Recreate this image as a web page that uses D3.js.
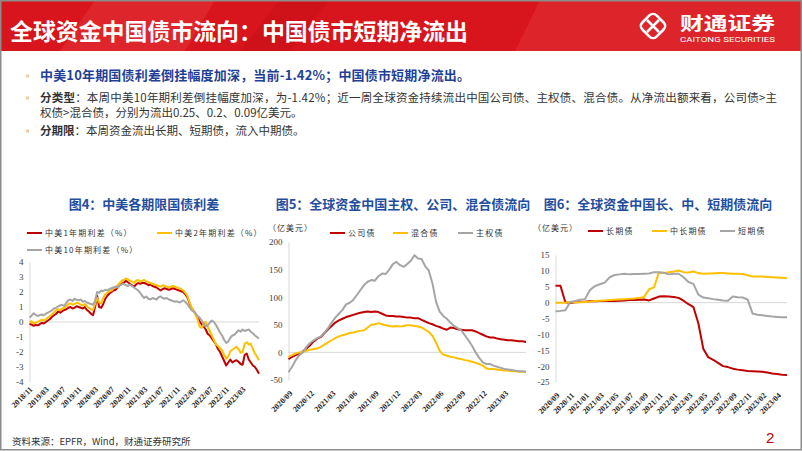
<!DOCTYPE html>
<html>
<head>
<meta charset="utf-8">
<script src="https://cdn.jsdelivr.net/npm/d3@7"></script>
<style>
  body { margin: 0; background: #fff; }
  svg { display: block; }
</style>
</head>
<body>
<svg id="slide" width="802" height="451"></svg>
<script>
// 图4: semi-monthly points from 2018/11 (%)
const spreadTicks = ["2018/11", "2019/03", "2019/07", "2019/11", "2020/03", "2020/07", "2020/11",
  "2021/03", "2021/07", "2021/11", "2022/03", "2022/07", "2022/11", "2023/03"];
const spread1y = [-0.12, -0.18, -0.25, -0.2, -0.22, -0.15, -0.05, -0.1, 0, 0.1, 0.2, 0.35, 0.45, 0.55,
  0.7, 0.62, 0.72, 0.8, 0.85, 0.95, 1, 0.9, 0.95, 1.05, 1, 0.95, 0.9, 1, 0.8, 0.7, 0.55, 0.45,
  1, 1.75, 1, 0.95, 1.2, 1.55, 1.75, 1.9, 2, 2.1, 2.15, 2.3, 2.45, 2.55, 2.6, 2.75, 2.65, 2.55,
  2.45, 2.35, 2.5, 2.6, 2.55, 2.6, 2.6, 2.55, 2.45, 2.5, 2.4, 2.35, 2.3, 2.2, 2.1, 2.2, 2.25, 2.2,
  2.15, 2.2, 2.25, 2.2, 2.15, 2.1, 2.05, 2, 1.85, 1.65, 1.3, 0.95, 0.75, 0.55, 0.3, 0.05, -0.15, -0.3,
  -0.5, -0.8, -0.9, -1.1, -1.3, -1.5, -1.8, -2, -2.3, -2.6, -2.9, -2.7, -2.5, -2.7, -2.6, -2.55,
  -2.65, -2.8, -2.85, -2.2, -2.1, -2.5, -2.7, -2.9, -3, -3.2, -3.45];
const spread2y = [-0.02, 0.05, -0.08, -0.05, 0.02, 0.08, 0.15, 0.1, 0.18, 0.3, 0.4, 0.52, 0.65, 0.78,
  0.85, 0.8, 0.9, 0.95, 1.05, 1.2, 1.25, 1.15, 1.2, 1.28, 1.25, 1.15, 1.1, 1.2, 1.05, 0.95, 0.85, 0.8,
  1.2, 1.6, 1.3, 1.25, 1.6, 1.85, 1.95, 2.05, 2.1, 2.25, 2.3, 2.45, 2.6, 2.75, 2.8, 2.9, 2.85, 2.75,
  2.7, 2.6, 2.75, 2.8, 2.7, 2.75, 2.8, 2.7, 2.65, 2.6, 2.55, 2.5, 2.45, 2.4, 2.35, 2.45, 2.4, 2.35,
  2.3, 2.35, 2.4, 2.35, 2.3, 2.25, 2.2, 2.1, 1.95, 1.75, 1.35, 1, 0.75, 0.5, 0.2, -0.3, -0.4, -0.15,
  0, -0.3, -0.6, -0.9, -1.2, -1.5, -1.6, -1.75, -1.9, -2.2, -2.45, -2.3, -1.95, -1.85, -1.75, -1.65,
  -1.8, -2.05, -2, -1.45, -1.35, -1.5, -1.45, -1.8, -2.1, -2.3, -2.55];
const spread10y = [0.3, 0.42, 0.58, 0.48, 0.4, 0.46, 0.5, 0.45, 0.55, 0.62, 0.7, 0.78, 0.9, 0.95,
  1.05, 1.1, 1.15, 1.05, 1.3, 1.45, 1.5, 1.4, 1.55, 1.48, 1.45, 1.5, 1.35, 1.4, 1.3, 1.25, 1.2, 1.15,
  1.4, 2, 1.95, 2.1, 2.05, 2.15, 2.1, 2.2, 2.25, 2.3, 2.35, 2.3, 2.45, 2.5, 2.55, 2.45, 2.4, 2.5,
  2.4, 2.3, 2.2, 2.1, 1.95, 1.75, 1.6, 1.7, 1.55, 1.5, 1.6, 1.55, 1.5, 1.65, 1.7, 1.6, 1.55, 1.6,
  1.5, 1.45, 1.4, 1.35, 1.38, 1.3, 1.35, 1.45, 1.35, 1.2, 1, 0.8, 0.7, 0.6, 0.4, 0.3, 0.1, -0.1,
  -0.3, -0.2, -0.05, 0.1, 0, -0.2, -0.45, -0.7, -0.9, -1.2, -1.4, -1.3, -1.05, -0.9, -0.85, -0.7,
  -0.55, -0.65, -0.5, -0.6, -0.55, -0.5, -0.65, -0.75, -0.9, -1, -1.1];

// 图5: semi-monthly points from 2020/09 (亿美元)
const flowTicks5 = ["2020/09", "2020/12", "2021/03", "2021/06", "2021/09", "2021/12", "2022/03",
  "2022/06", "2022/09", "2022/12", "2023/03"];
const corpBond = [-12, -8, -5, -2, 2, 7, 13, 20, 25, 28, 35, 42, 48, 54, 58, 61, 64, 66, 68, 70,
  72, 73, 74, 73, 74, 73, 70, 67, 66, 66, 65, 65, 64, 63, 63, 62, 62, 59, 56, 53, 51, 48, 46, 43, 41,
  45, 44, 42, 41, 40, 40, 40, 38, 35, 32, 29, 27, 27, 25, 24, 23, 22, 22, 21, 20, 20, 19];
const mixedBond = [-8, -5, -2, 0, 1, 3, 5, 6, 7, 10, 14, 18, 22, 26, 29, 31, 33, 35, 36, 38, 39, 40,
  45, 50, 51, 53, 51, 49, 48, 47, 48, 47, 48, 49, 49, 48, 47, 45, 41, 37, 30, 18, 3, -4, -6, -8, -9,
  -11, -12, -14, -15, -17, -19, -21, -24, -29, -30, -30, -31, -32, -33, -33, -34, -34, -35, -35, -36];
const sovBond = [-36, -26, -14, -5, 0, 10, 17, 22, 26, 29, 36, 44, 54, 63, 70, 77, 87, 90, 95, 104,
  113, 122, 128, 131, 130, 138, 143, 142, 150, 160, 164, 158, 155, 160, 166, 176, 170, 169, 156, 148,
  125, 92, 74, 66, 61, 54, 48, 44, 40, 31, 22, 12, 0, -10, -18, -21, -21, -24, -26, -28, -30, -31,
  -32, -33, -34, -34, -35];

// 图6: one point every 3 weeks from 2020/09 (亿美元)
const flowTicks6 = ["2020/09", "2020/11", "2021/01", "2021/03", "2021/05", "2021/07", "2021/09",
  "2021/11", "2022/01", "2022/03", "2022/05", "2022/07", "2022/09", "2022/11", "2023/02", "2023/04"];
const longBond = [5.3, 5.3, 0.1, -0.1, 0.1, 0.2, 0.3, 0.4, 0.4, 0.5, 0.5, 0.5, 0.5, 0.6, 0.7, 0.8,
  0.8, 0.9, 1, 0.7, 1.3, 1.9, 2, 1.9, 1.8, 1.5, 0.6, -0.5, -1.4, -6.5, -14.5, -17.2, -18, -19, -20,
  -20.3, -20.8, -21.1, -21.3, -21.5, -21.6, -21.7, -21.8, -22, -22.3, -22.5, -22.7, -22.8];
const midBond = [0, 0, 0, 0.1, 0.1, 0.1, 0.2, 0.3, 0.5, 0.6, 0.7, 0.8, 0.9, 1, 1.1, 1.2, 1.3, 1.5,
  1.8, 4.2, 4.8, 9.5, 9.3, 9.6, 9.8, 10.1, 9.6, 9.5, 9.8, 9.3, 9.1, 9.2, 9.2, 9.3, 9.3, 9.2, 9.1, 9.1,
  9, 8.6, 8.2, 8.2, 8.2, 8.1, 8, 7.9, 7.8, 7.7];
const shortBond = [-2.7, -2.6, -2.4, 0.2, 0.5, 0.9, 1.1, 4, 5.2, 5.8, 6.3, 8, 8.7, 8.9, 9.1, 8.9, 9,
  9, 9.1, 9.2, 9.6, 9.6, 9.4, 8.9, 9.1, 9.1, 8, 6.5, 5.9, 2.5, 1.6, 1.4, 1.1, 0.9, 0.7, 0.6, 1.9,
  1.7, 1.6, 1, -3.4, -3.8, -4, -4.2, -4.4, -4.5, -4.6, -4.6];

const RED = "#C00000";
const YELLOW = "#FFC000";
const GRAY = "#A5A5A5";
const CJK = "'Noto Sans CJK SC', 'Noto Sans', sans-serif";

const svg = d3.select("#slide");

/* header band */
const header = () => {
  svg.append("rect").attr("width", 802).attr("height", 51).attr("fill", "#d8141c");
  svg.append("polygon").attr("points", "95,0 215,0 185,51 60,51").attr("fill", "#e6393e").attr("opacity", 0.45);
  svg.append("polygon").attr("points", "280,0 330,0 290,51 240,51").attr("fill", "#b80f17").attr("opacity", 0.3);
  svg.append("polygon").attr("points", "540,0 802,0 802,51 515,51").attr("fill", "#e4383d").attr("opacity", 0.45);

  svg.append("text")
    .attr("x", 10).attr("y", 40)
    .attr("font-family", CJK).attr("font-weight", "bold").attr("font-size", 22.5)
    .attr("fill", "#fff")
    .attr("textLength", 458).attr("lengthAdjust", "spacingAndGlyphs")
    .text("全球资金中国债市流向：中国债市短期净流出");

  // logo
  const logo = svg.append("g").attr("fill", "none").attr("stroke", "#fff").attr("stroke-width", 2.6);
  logo.append("rect").attr("x", 643).attr("y", 16).attr("width", 20).attr("height", 20).attr("rx", 5)
    .attr("transform", "rotate(45 653 26)");
  logo.append("path").attr("d", "M647,20 L659,32 M659,20 L647,32");
  svg.append("text").attr("x", 680).attr("y", 30)
    .attr("font-family", CJK).attr("font-weight", "bold").attr("font-size", 18).attr("fill", "#fff")
    .attr("textLength", 95).attr("lengthAdjust", "spacingAndGlyphs").text("财通证券");
  svg.append("text").attr("x", 680).attr("y", 42)
    .attr("font-family", "Roboto, sans-serif").attr("font-size", 8).attr("fill", "#fff")
    .attr("textLength", 95).attr("lengthAdjust", "spacingAndGlyphs").text("CAITONG SECURITIES");
};

/* bullet text block */
const bullets = () => {
  [76, 98, 131].forEach(cy => {
    svg.append("rect").attr("x", 26).attr("y", cy - 1.5).attr("width", 3).attr("height", 3).attr("fill", "#f2c9a0");
  });
  svg.append("text").attr("x", 40).attr("y", 80)
    .attr("font-family", CJK).attr("font-weight", "bold").attr("font-size", 13).attr("fill", "#1f3f98")
    .attr("textLength", 430).attr("lengthAdjust", "spacing")
    .text("中美10年期国债利差倒挂幅度加深，当前-1.42%；中国债市短期净流出。");

  const body = (y, bold, rest, len) => {
    const t = svg.append("text").attr("x", 40).attr("y", y)
      .attr("font-family", CJK).attr("font-size", 11.5).attr("fill", "#333");
    if (len) t.attr("textLength", len).attr("lengthAdjust", "spacing");
    if (bold) t.append("tspan").attr("font-weight", "bold").text(bold);
    t.append("tspan").text(rest);
  };
  body(102, "分类型", "：本周中美10年期利差倒挂幅度加深，为-1.42%；近一周全球资金持续流出中国公司债、主权债、混合债。从净流出额来看，公司债>主", 737);
  body(117, null, "权债>混合债，分别为流出0.25、0.2、0.09亿美元。");
  body(135, "分期限", "：本周资金流出长期、短期债，流入中期债。");
};

const chartTitle = (x, text) => {
  svg.append("text").attr("x", x).attr("y", 209).attr("text-anchor", "middle")
    .attr("font-family", CJK).attr("font-weight", "bold").attr("font-size", 13).attr("fill", "#1f4e9f")
    .text(text);
};

const legendItem = (x, y, color, label) => {
  svg.append("line").attr("x1", x).attr("x2", x + 15).attr("y1", y).attr("y2", y)
    .attr("stroke", color).attr("stroke-width", 2);
  svg.append("text").attr("x", x + 18).attr("y", y).attr("dy", "0.35em")
    .attr("font-family", CJK).attr("font-size", 8).attr("letter-spacing", 1.2).attr("fill", "#333")
    .text(label);
};

const unitLabel = (x, y) => {
  svg.append("text").attr("x", x).attr("y", y).attr("dy", "0.35em")
    .attr("font-family", CJK).attr("font-size", 8).attr("letter-spacing", 1).attr("fill", "#333")
    .text("（亿美元）");
};

const drawChart = cfg => {
  const g = svg.append("g");
  const n = cfg.series[0].values.length;
  const x = d3.scaleLinear().domain([0, n - 1]).range([cfg.left, cfg.right]);
  const y = d3.scaleLinear().domain(cfg.yDomain).range([cfg.bottom, cfg.top]);

  const yAxis = g.append("g")
    .attr("transform", `translate(${cfg.left},0)`)
    .call(d3.axisLeft(y).tickValues(cfg.yTicks).tickSize(0).tickPadding(6).tickFormat(d => String(d)));
  yAxis.select(".domain").attr("stroke", "#d9d9d9");
  yAxis.selectAll("text")
    .attr("font-family", "'Liberation Serif', serif").attr("font-size", 9).attr("fill", "#404040");

  g.append("line")
    .attr("x1", cfg.left).attr("x2", cfg.right)
    .attr("y1", y(0)).attr("y2", y(0))
    .attr("stroke", "#d9d9d9");

  const xAxis = g.append("g")
    .attr("transform", `translate(0,${cfg.bottom})`)
    .call(d3.axisBottom(x)
      .tickValues(cfg.ticks.map((d, i) => i * cfg.step))
      .tickFormat((d, i) => cfg.ticks[i])
      .tickSize(0));
  xAxis.select(".domain").remove();
  xAxis.selectAll("text")
    .attr("y", 0).attr("dy", "0.35em")
    .attr("transform", `translate(${cfg.lx},${cfg.ly}) rotate(-45)`)
    .style("text-anchor", "end")
    .attr("font-family", "'Liberation Serif', serif").attr("font-weight", "bold")
    .attr("font-size", 8).attr("fill", "#262626");

  const line = d3.line().x((d, i) => x(i)).y(d => y(d));
  cfg.series.forEach(s => {
    g.append("path").datum(s.values)
      .attr("d", line)
      .attr("fill", "none")
      .attr("stroke", s.color)
      .attr("stroke-width", 2)
      .attr("stroke-linejoin", "round");
  });
};

header();
bullets();

// 图4
chartTitle(144, "图4：中美各期限国债利差");
legendItem(27, 233, RED, "中美1年期利差（%）");
legendItem(157, 233, YELLOW, "中美2年期利差（%）");
legendItem(27, 250, GRAY, "中美10年期利差（%）");
drawChart({
  left: 29.5, right: 259, top: 262, bottom: 382,
  yDomain: [-4, 4], yTicks: d3.range(-4, 5, 1),
  ticks: spreadTicks, step: 8, lx: 1, ly: 6,
  series: [
    { values: spread1y, color: RED },
    { values: spread2y, color: YELLOW },
    { values: spread10y, color: GRAY }
  ]
});

// 图5
chartTitle(403, "图5：全球资金中国主权、公司、混合债流向");
unitLabel(268, 228);
legendItem(330, 233, RED, "公司债");
legendItem(393, 233, YELLOW, "混合债");
legendItem(458, 233, GRAY, "主权债");
drawChart({
  left: 288.5, right: 526, top: 242, bottom: 380,
  yDomain: [-50, 200], yTicks: d3.range(-50, 201, 50),
  ticks: flowTicks5, step: 6, lx: 2, ly: 12,
  series: [
    { values: corpBond, color: RED },
    { values: mixedBond, color: YELLOW },
    { values: sovBond, color: GRAY }
  ]
});

// 图6
chartTitle(658, "图6：全球资金中国长、中、短期债流向");
unitLabel(533, 228);
legendItem(588, 231, RED, "长期债");
legendItem(652, 231, YELLOW, "中长期债");
legendItem(720, 231, GRAY, "短期债");
drawChart({
  left: 555.5, right: 787, top: 255, bottom: 382,
  yDomain: [-25, 15], yTicks: d3.range(-25, 16, 5),
  ticks: flowTicks6, step: 3, lx: 2, ly: 12,
  series: [
    { values: longBond, color: RED },
    { values: midBond, color: YELLOW },
    { values: shortBond, color: GRAY }
  ]
});

// footer
svg.append("text").attr("x", 12).attr("y", 445)
  .attr("font-family", CJK).attr("font-size", 9.5).attr("fill", "#333")
  .text("资料来源：EPFR，Wind，财通证券研究所");
svg.append("text").attr("x", 766).attr("y", 443)
  .attr("font-family", "'Liberation Sans', sans-serif").attr("font-size", 15).attr("fill", "#c00000")
  .text("2");

// slide frame
svg.append("rect").attr("x", 0.75).attr("y", 0.75).attr("width", 800.5).attr("height", 449)
  .attr("fill", "none").attr("stroke", "#8c8c8c").attr("stroke-width", 1.5);
</script>
</body>
</html>
